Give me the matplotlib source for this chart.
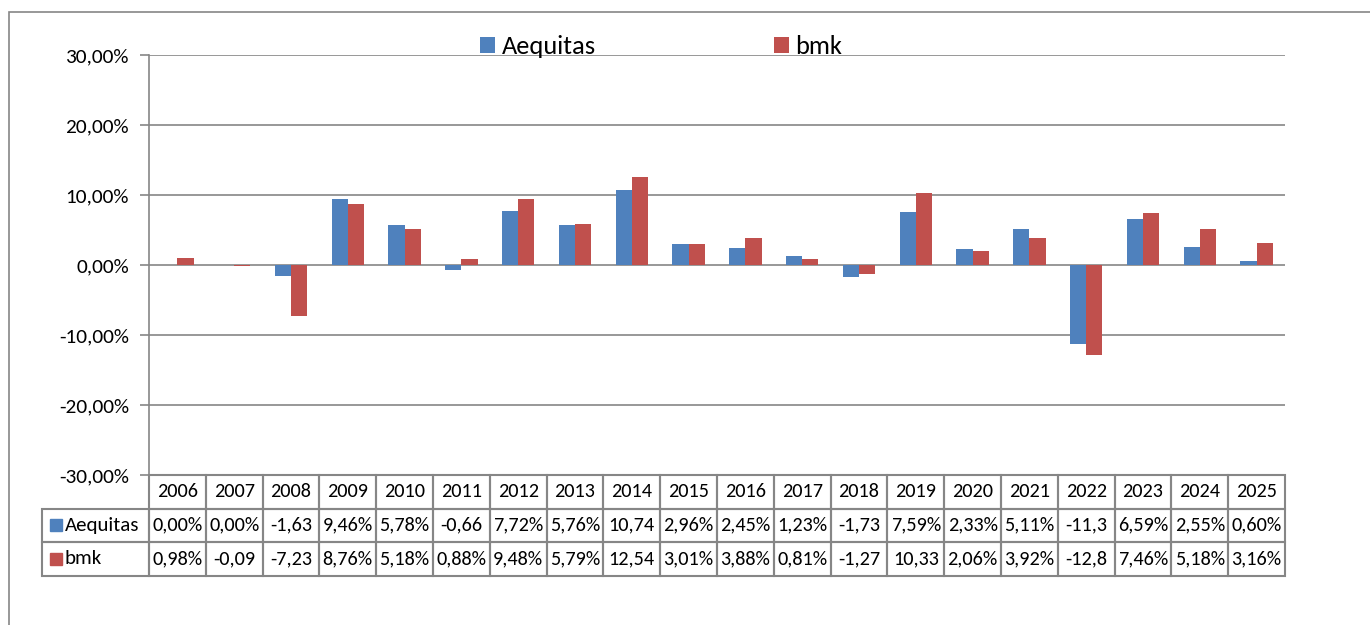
import numpy as np
import matplotlib
matplotlib.use('Agg')
import matplotlib.pyplot as plt
from matplotlib.patches import Rectangle
import matplotlib.transforms as mtransforms

plt.rcParams['font.family'] = ['Carlito', 'DejaVu Sans']

# data (percent)
years = ['2006', '2007', '2008', '2009', '2010', '2011', '2012', '2013', '2014', '2015',
         '2016', '2017', '2018', '2019', '2020', '2021', '2022', '2023', '2024', '2025']
aequitas = [0.00, 0.00, -1.63, 9.46, 5.78, -0.66, 7.72, 5.76, 10.74, 2.96,
            2.45, 1.23, -1.73, 7.59, 2.33, 5.11, -11.30, 6.59, 2.55, 0.60]
bmk = [0.98, -0.09, -7.23, 8.76, 5.18, 0.88, 9.48, 5.79, 12.54, 3.01,
       3.88, 0.81, -1.27, 10.33, 2.06, 3.92, -12.80, 7.46, 5.18, 3.16]
series_names = ['Aequitas', 'bmk']
yticks = [-30, -20, -10, 0, 10, 20, 30]

blue = '#4F81BD'
red = '#C0504D'
gray = '#868686'

W, H = 1370, 625
fig = plt.figure(figsize=(W / 100, H / 100), dpi=100)
ax = fig.add_axes([149 / W, 1 - 475 / H, (1285 - 149) / W, 420 / H])

x = np.arange(len(years))
bw = 1 / 3.5
ax.bar(x - bw / 2, aequitas, bw, color=blue, label=series_names[0], zorder=3)
ax.bar(x + bw / 2, bmk, bw, color=red, label=series_names[1], zorder=3)

ax.set_xlim(-0.5, len(years) - 0.5)
ax.set_ylim(-30, 30)
ax.set_yticks(yticks)
ax.set_yticklabels([f'{t:.2f}%'.replace('.', ',') for t in yticks], fontsize=15.3)
ax.tick_params(axis='y', length=6.5, width=1.2, color=gray, pad=8)
ax.set_xticks([])
ax.grid(axis='y', color=gray, lw=1.2, zorder=0)
for s in ['top', 'right', 'bottom']:
    ax.spines[s].set_visible(False)
ax.spines['left'].set_color(gray)
ax.spines['left'].set_linewidth(1.2)

leg = fig.legend(loc='center', bbox_to_anchor=(0.4825, 1 - 46.5 / H), ncol=2, frameon=False,
                 fontsize=19, handlelength=0.57, handleheight=0.57, handletextpad=0.23,
                 columnspacing=6.75)

# data table below axes
trans = mtransforms.blended_transform_factory(ax.transData, ax.transAxes)
row_h = 33.5 / 420
top = 0.0
tfs = 14.6
cell_kw = dict(fill=False, ec=gray, lw=1.5, clip_on=False)
for i, yr in enumerate(years):
    ax.add_patch(Rectangle((i - 0.5, top - row_h), 1, row_h, transform=trans, **cell_kw))
    ax.text(i, top - row_h / 2, yr, transform=trans, ha='center', va='center', fontsize=tfs)
    for r, vals in enumerate([aequitas, bmk]):
        y0 = top - row_h * (r + 2)
        ax.add_patch(Rectangle((i - 0.5, y0), 1, row_h, transform=trans, **cell_kw))
        lbl = f'{vals[i]:.2f}%'.replace('.', ',')[:5]
        ax.text(i, y0 + row_h / 2, lbl, transform=trans, ha='center', va='center', fontsize=tfs)

# row label column
lx0 = (42 - 149) / 1136
for r, (name, col) in enumerate(zip(series_names, [blue, red])):
    y0 = top - row_h * (r + 2)
    ax.add_patch(Rectangle((lx0, y0), -lx0, row_h, transform=ax.transAxes, **cell_kw))
    ax.add_patch(Rectangle((lx0 + 8 / 1136, y0 + row_h / 2 - 6 / 420), 12 / 1136, 12 / 420,
                           transform=ax.transAxes, color=col, clip_on=False))
    ax.text(lx0 + 23 / 1136, y0 + row_h / 2, name, transform=ax.transAxes,
            ha='left', va='center', fontsize=15)

# chart area border
fig.add_artist(Rectangle((9 / W, -0.1), 1.2, 1 - 12 / H + 0.1, transform=fig.transFigure,
                         fill=False, ec=gray, lw=1.2))

fig.savefig('out.png', dpi=100)
